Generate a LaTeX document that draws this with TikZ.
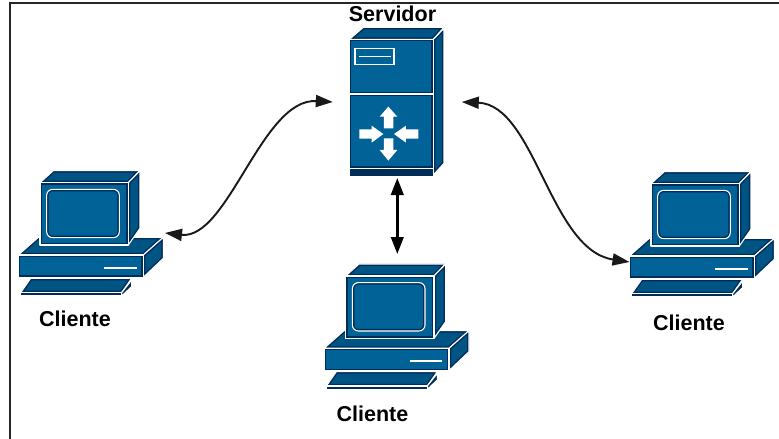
\documentclass[tikz,border=0pt]{standalone}
\usepackage{fontspec}
\setmainfont{Liberation Sans}
\usetikzlibrary{arrows.meta}
\definecolor{facefront}{RGB}{0,98,150}
\definecolor{faceside}{RGB}{0,84,132}
\definecolor{faceedge}{RGB}{0,44,88}
\definecolor{linkcol}{RGB}{25,25,25}
\newcommand{\iconface}[2][facefront]{%
  \begin{scope}
    \clip #2;
    \fill[#1] #2;
    \draw[faceedge,line width=4pt] #2;
  \end{scope}
  \draw[white,line width=1.1pt,line join=round] #2;
}
\newcommand{\pcicon}{%
  \iconface[faceside]{(55,285) -- (115,232) -- (490,232) -- (430,285) -- cycle}
  \iconface[faceside]{(430,285) -- (490,232) -- (490,295) -- (430,352) -- cycle}
  \iconface{(55,285) rectangle (430,352)}
  \draw[white,line width=2.4pt] (313,324) -- (410,324);
  \iconface[faceside]{(120,68) -- (160,32) -- (420,32) -- (385,68) -- cycle}
  \iconface[faceside]{(385,68) -- (420,32) -- (420,205) -- (385,255) -- cycle}
  \iconface{(120,68) rectangle (385,255)}
  \iconface{[rounded corners=6pt] (140,88) rectangle (358,233)}
  \iconface[faceside]{(62,398) -- (92,355) -- (395,355) -- (365,398) -- cycle}
  \iconface[faceedge]{(365,398) -- (395,360) -- (395,380) -- (365,408) -- cycle}
  \iconface[faceedge]{(62,398) rectangle (365,408)}
}
\tikzset{
  anchorbox/.style={draw=none,fill=none,inner sep=0pt,outer sep=0pt},
  caption/.style={font=\fontsize{21.5pt}{24pt}\selectfont\bfseries,text=black,inner sep=0pt},
  link/.style={draw=linkcol,line width=1.9pt,{Triangle[length=17pt,width=12pt]}-{Triangle[length=17pt,width=12pt]}},
  stem/.style={draw=black,line width=2.6pt,{Triangle[length=17pt,width=12.5pt]}-{Triangle[length=17pt,width=12.5pt]}},
  frameline/.style={draw=black!85,line width=1.3pt},
  cross/.style={fill=white,draw=none}
}
\begin{document}
\begin{tikzpicture}[x=1pt,y=-1pt]
\useasboundingbox (0,0) rectangle (779,439);
\fill[white] (0,0) rectangle (779,439);
\coordinate (fa) at (779,3);
\coordinate (fb) at (10,3);
\coordinate (fc) at (10,439);
\draw[frameline] (fa) -- (fb) -- (fc);

% server
\begin{scope}[shift={(320,0)},x=0.3333pt,y=-0.3333pt]
  \iconface[faceside]{(88,118) -- (130,82) -- (372,82) -- (340,118) -- cycle}
  \iconface[faceside]{(340,118) -- (372,85) -- (372,490) -- (340,525) -- cycle}
  \iconface{(88,118) rectangle (340,282)}
  \iconface{(88,282) rectangle (340,505)}
  \iconface[faceedge]{(88,505) rectangle (340,531)}
  \draw[white,line width=1.3pt] (105,146) rectangle (222,193);
  \draw[white,line width=1.3pt] (118,170) -- (212,170);
  \fill[cross] (192,385) -- (192,350) -- (179,350) -- (205,320) -- (232,350) -- (220,350) -- (220,385) -- cycle;
  \fill[cross] (192,415) -- (192,450) -- (179,450) -- (205,482) -- (232,450) -- (220,450) -- (220,415) -- cycle;
  \fill[cross] (118,388) -- (155,388) -- (155,377) -- (190,402) -- (155,428) -- (155,416) -- (118,416) -- cycle;
  \fill[cross] (295,388) -- (258,388) -- (258,377) -- (222,402) -- (258,428) -- (258,416) -- (295,416) -- cycle;
\end{scope}

% clients
\begin{scope}[shift={(0,160)},x=0.3333pt,y=-0.3333pt]\pcicon\end{scope}
\begin{scope}[shift={(305.7,253.3)},x=0.3333pt,y=-0.3333pt]\pcicon\end{scope}
\begin{scope}[shift={(611,161)},x=0.3333pt,y=-0.3333pt]\pcicon\end{scope}

% invisible boxes the connectors attach to
\node[anchorbox,minimum width=129pt,minimum height=152pt] (server) at (397.3,102) {};
\node[anchorbox,minimum width=148pt,minimum height=128pt] (pca) at (91,233) {};
\node[anchorbox,minimum width=148pt,minimum height=136pt] (pcb) at (397,322) {};
\node[anchorbox,minimum width=146pt,minimum height=184pt] (pcc) at (702.5,262) {};

% captions
\node[caption] (lserver) at (392.5,14) {Servidor};
\node[caption] (lpca) at (75,319) {Cliente};
\node[caption] (lpcb) at (372.5,414) {Cliente};
\node[caption] (lpcc) at (689,323) {Cliente};

% connectors
\draw[link] (server.west) .. controls (262,98) and (228,240) .. (pca.east);
\draw[link] (server.east) .. controls (535,105) and (550,250) .. (pcc.west);
\draw[stem] (server.south) -- (server.south |- pcb.north);
\end{tikzpicture}
\end{document}
